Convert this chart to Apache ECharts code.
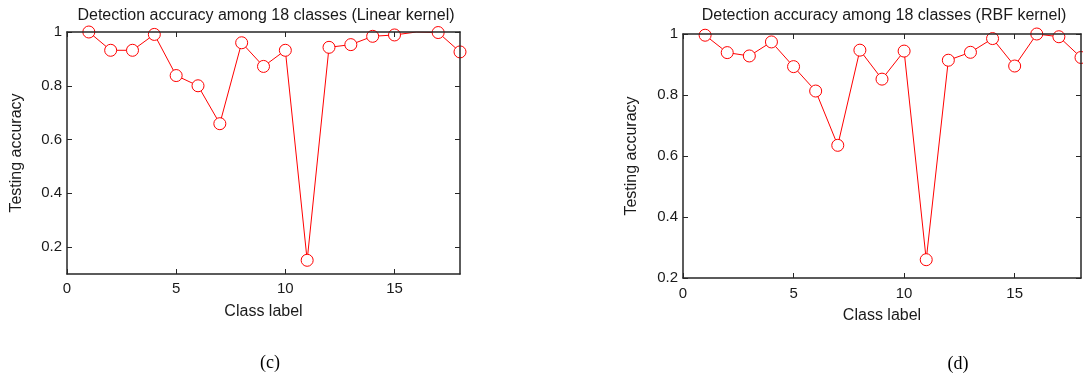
<!DOCTYPE html>
<html>
<head>
<meta charset="utf-8">
<script src="https://cdn.jsdelivr.net/npm/echarts@6/dist/echarts.min.js"></script>
<style>
  html, body { margin: 0; padding: 0; background: #fff; }
  #chart { width: 1083px; height: 376px; }
</style>
</head>
<body>
<div id="chart"></div>
<script>
// Per-class testing accuracy for the two SVM kernels
const classLabels = [1, 2, 3, 4, 5, 6, 7, 8, 9, 10, 11, 12, 13, 14, 15, 16, 17, 18];
const linearAccuracy = [1.0, 0.932, 0.932, 0.991, 0.838, 0.8, 0.659, 0.96, 0.872, 0.932, 0.151, 0.943, 0.953, 0.984, 0.989, 1.0, 0.998, 0.926];
const rbfAccuracy = [0.996, 0.939, 0.928, 0.974, 0.893, 0.813, 0.635, 0.947, 0.852, 0.944, 0.26, 0.914, 0.94, 0.985, 0.895, 1.0, 0.991, 0.923];
const linearNoMarker = [16];

const xTicks = [0, 5, 10, 15];
const linearYTicks = [0.2, 0.4, 0.6, 0.8, 1];
const rbfYTicks = [0.2, 0.4, 0.6, 0.8, 1];

const titles = ['Detection accuracy among 18 classes (Linear kernel)', 'Detection accuracy among 18 classes (RBF kernel)'];
const captions = ['(c)', '(d)'];

const FONT = '"Liberation Sans", Arial, sans-serif';
const SERIF = '"Liberation Serif", "Times New Roman", serif';
const INK = '#1a1a1a';
const AXIS = '#262626';
const RED = '#ff0000';

function pairs(values, hidden) {
  return classLabels.map((c, i) => {
    const item = { value: [c, values[i]] };
    if (hidden && hidden.indexOf(c) >= 0) item.symbol = 'none';
    return item;
  });
}

function frameAxis(extra) {
  return Object.assign({
    type: 'value',
    splitLine: { show: false },
    axisLine: { show: true, onZero: false, lineStyle: { color: AXIS, width: 1.5 } },
    z: 5
  }, extra);
}

function xAxes(gridIndex, labelMargin) {
  return [
    frameAxis({
      gridIndex, min: 0, max: 18, position: 'bottom',
      name: 'Class label', nameLocation: 'middle', nameGap: 30,
      nameTextStyle: { fontFamily: FONT, fontSize: 16, color: INK },
      axisTick: { show: true, inside: true, length: 5, customValues: xTicks.slice(), lineStyle: { color: AXIS } },
      axisLabel: { show: true, customValues: xTicks.slice(), margin: labelMargin, fontFamily: FONT, fontSize: 15, color: INK }
    }),
    frameAxis({
      gridIndex, min: 0, max: 18, position: 'top',
      axisTick: { show: true, inside: true, length: 5, customValues: xTicks.slice(), lineStyle: { color: AXIS } },
      axisLabel: { show: false }
    })
  ];
}

function yAxes(gridIndex, min, ticks, gap) {
  return [
    frameAxis({
      gridIndex, min: min, max: 1, position: 'left',
      name: 'Testing accuracy', nameLocation: 'middle', nameGap: gap, nameRotate: 90,
      nameTextStyle: { fontFamily: FONT, fontSize: 16, color: INK },
      axisTick: { show: true, inside: true, length: 5, customValues: ticks.slice(), lineStyle: { color: AXIS } },
      axisLabel: { show: true, customValues: ticks.slice(), margin: 5, fontFamily: FONT, fontSize: 15, color: INK }
    }),
    frameAxis({
      gridIndex, min: min, max: 1, position: 'right',
      axisTick: { show: true, inside: true, length: 5, customValues: ticks.slice(), lineStyle: { color: AXIS } },
      axisLabel: { show: false }
    })
  ];
}

function lineSeries(xi, yi, values, hidden) {
  return {
    type: 'line', xAxisIndex: xi, yAxisIndex: yi,
    data: pairs(values, hidden),
    symbol: 'circle', symbolSize: 12,
    showAllSymbol: true,
    lineStyle: { color: RED, width: 1 },
    itemStyle: { color: '#ffffff', borderColor: RED, borderWidth: 1 },
    emphasis: { disabled: true },
    animation: false, z: 2
  };
}

const chart = echarts.init(document.getElementById('chart'), null, { renderer: 'canvas' });
chart.setOption({
  animation: false,
  backgroundColor: '#fff',
  title: [
    { text: titles[0], left: 261, top: 3, textAlign: 'center', textStyle: { fontFamily: FONT, fontSize: 16, fontWeight: 'normal', color: INK } },
    { text: titles[1], left: 879, top: 3, textAlign: 'center', textStyle: { fontFamily: FONT, fontSize: 16, fontWeight: 'normal', color: INK } },
    { text: captions[0], left: 265, top: 349, textAlign: 'center', textStyle: { fontFamily: SERIF, fontSize: 18, fontWeight: 'normal', color: '#000' } },
    { text: captions[1], left: 953, top: 350, textAlign: 'center', textStyle: { fontFamily: SERIF, fontSize: 18, fontWeight: 'normal', color: '#000' } }
  ],
  grid: [
    { left: 67, top: 32, width: 393, height: 242, containLabel: false, outerBoundsMode: 'none' },
    { left: 683, top: 34, width: 398, height: 244, containLabel: false, outerBoundsMode: 'none' }
  ],
  xAxis: xAxes(0, 7).concat(xAxes(1, 8)),
  yAxis: yAxes(0, 0.1, linearYTicks, 42).concat(yAxes(1, 0.2, rbfYTicks, 43)),
  series: [
    lineSeries(0, 0, linearAccuracy, linearNoMarker),
    lineSeries(2, 2, rbfAccuracy, null)
  ]
});
</script>
</body>
</html>
